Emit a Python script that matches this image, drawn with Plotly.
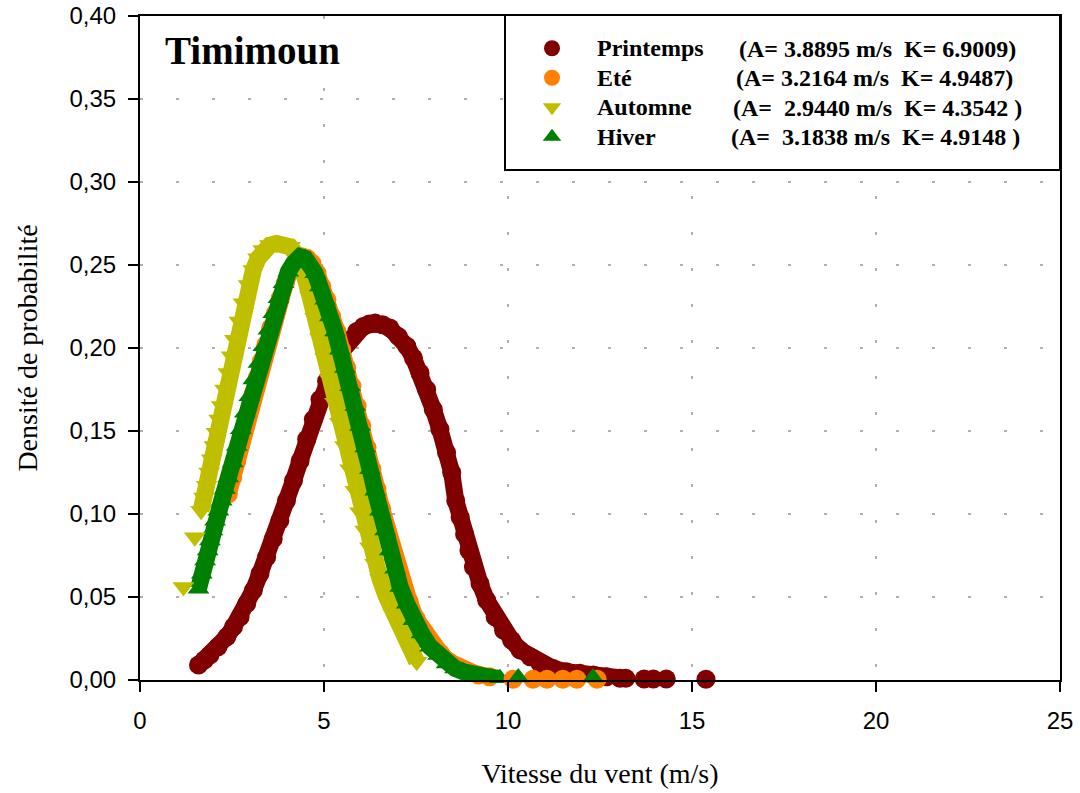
import plotly.graph_objects as go

# ---------------- data ----------------
series_names = ["Printemps", "Eté", "Automne", "Hiver"]
param_texts = [
    "(A= 3.8895 m/s  K= 6.9009)",
    "(A= 3.2164 m/s  K= 4.9487)",
    "(A=  2.9440 m/s  K= 4.3542 )",
    "(A=  3.1838 m/s  K= 4.9148 )",
]

# Printemps (dark red circles)
printemps_x = [1.59, 1.75, 1.90, 2.12, 2.36, 2.54, 2.72, 2.90, 3.08, 3.26, 3.44, 3.62, 3.80, 3.98, 4.17,
               4.35, 4.53, 4.71, 4.89, 5.07, 5.25, 5.48, 5.71, 5.89, 6.07, 6.23, 6.39, 6.59, 6.79,
               7.02, 7.25, 7.43, 7.61, 7.79, 7.97, 8.15, 8.33, 8.47, 8.58, 8.70, 8.82, 8.94, 9.06,
               9.24, 9.42, 9.65, 9.88, 10.10, 10.33, 10.60, 10.87, 11.23, 11.59, 11.95, 12.32, 12.68, 13.04, 13.20]
printemps_y = [0.009, 0.012, 0.015, 0.020, 0.026, 0.032, 0.038, 0.046, 0.054, 0.064, 0.074, 0.085, 0.096, 0.108, 0.120,
               0.132, 0.145, 0.157, 0.169, 0.180, 0.189, 0.198, 0.205, 0.210, 0.213, 0.2145, 0.215, 0.214, 0.212,
               0.207, 0.201, 0.194, 0.185, 0.175, 0.163, 0.151, 0.137, 0.125, 0.108, 0.098, 0.088, 0.078, 0.068,
               0.058, 0.048, 0.038, 0.030, 0.024, 0.018, 0.014, 0.010, 0.007, 0.005, 0.004, 0.003, 0.002, 0.001, 0.001]
printemps_tail_x = [13.70, 13.95, 14.30, 15.38]
printemps_tail_y = [0.0006, 0.0006, 0.0006, 0.0005]

# Eté (orange circles)
ete_x = [2.40, 2.52, 2.63, 2.74, 2.85, 2.96, 3.07, 3.18, 3.30, 3.42, 3.55, 3.68, 3.81, 3.95, 4.08, 4.22, 4.40,
         4.54, 4.67, 4.81, 4.94, 5.08, 5.21, 5.35, 5.48, 5.62, 5.76, 5.90, 6.03, 6.17, 6.30, 6.44, 6.57,
         6.71, 6.85, 6.99, 7.13, 7.32, 7.50, 7.72, 7.95, 8.17, 8.40, 8.65, 8.90, 9.20, 9.50]
ete_y = [0.112, 0.122, 0.132, 0.142, 0.152, 0.162, 0.172, 0.182, 0.192, 0.202, 0.212, 0.221, 0.230, 0.239, 0.246, 0.251, 0.255,
         0.254, 0.251, 0.245, 0.237, 0.229, 0.219, 0.210, 0.199, 0.188, 0.177, 0.165, 0.153, 0.140, 0.127, 0.115, 0.103,
         0.091, 0.079, 0.068, 0.057, 0.047, 0.037, 0.029, 0.021, 0.016, 0.011, 0.008, 0.005, 0.003, 0.002]
ete_tail_x = [10.14, 10.68, 11.06, 11.49, 11.87, 12.42]
ete_tail_y = [0.0005, 0.0005, 0.0005, 0.0005, 0.0005, 0.0005]

# Automne (olive-yellow down triangles)
automne_x = [1.66, 1.74, 1.81, 1.88, 1.95, 2.02, 2.08, 2.15, 2.22, 2.31, 2.40, 2.49, 2.58, 2.70, 2.81, 2.95, 3.08,
             3.21, 3.35, 3.53, 3.71, 3.90, 4.08, 4.22, 4.35, 4.49, 4.62, 4.76, 4.89, 5.03, 5.16, 5.30, 5.43,
             5.57, 5.71, 5.85, 5.98, 6.12, 6.25, 6.39, 6.52, 6.70, 6.88, 7.07, 7.25, 7.38, 7.52]
automne_y = [0.102, 0.110, 0.117, 0.125, 0.133, 0.141, 0.149, 0.157, 0.165, 0.175, 0.185, 0.195, 0.205, 0.216, 0.227, 0.238, 0.247,
             0.254, 0.259, 0.262, 0.263, 0.263, 0.261, 0.257, 0.251, 0.242, 0.231, 0.218, 0.206, 0.194, 0.181, 0.167, 0.155,
             0.141, 0.127, 0.114, 0.101, 0.090, 0.080, 0.070, 0.061, 0.050, 0.040, 0.032, 0.024, 0.018, 0.011]
automne_tail_x = [1.18, 1.49, 8.23, 8.58, 8.97, 9.24, 9.46, 12.00]
automne_tail_y = [0.056, 0.086, -0.0015, -0.0015, -0.0015, -0.0015, -0.0015, -0.0015]

# Hiver (green up triangles)
hiver_x = [1.59, 1.68, 1.77, 1.84, 1.90, 1.97, 2.04, 2.13, 2.22, 2.31, 2.40, 2.52, 2.63, 2.74, 2.85, 2.97, 3.08,
           3.22, 3.35, 3.49, 3.62, 3.76, 3.90, 4.03, 4.17, 4.35, 4.49, 4.62, 4.76, 4.89, 5.03, 5.16, 5.30,
           5.43, 5.57, 5.71, 5.85, 5.98, 6.12, 6.25, 6.39, 6.52, 6.66, 6.79, 6.93, 7.07, 7.25, 7.43, 7.65,
           7.88, 8.10, 8.33, 8.56, 8.79, 9.05, 9.30, 9.55, 9.78]
hiver_y = [0.055, 0.064, 0.072, 0.078, 0.084, 0.090, 0.096, 0.102, 0.108, 0.115, 0.122, 0.131, 0.141, 0.151, 0.161, 0.171, 0.181,
           0.191, 0.201, 0.211, 0.221, 0.230, 0.239, 0.246, 0.251, 0.255, 0.254, 0.251, 0.245, 0.237, 0.229, 0.219, 0.210,
           0.199, 0.188, 0.177, 0.165, 0.153, 0.140, 0.127, 0.114, 0.102, 0.090, 0.078, 0.067, 0.056, 0.046, 0.036, 0.028,
           0.020, 0.015, 0.010, 0.007, 0.005, 0.003, 0.002, 0.0015, 0.001]
hiver_tail_x = [10.28, 12.31]
hiver_tail_y = [0.0015, 0.0015]

colors = ["#800000", "#FF8000", "#BFBF00", "#008000"]
symbols = ["circle", "circle", "triangle-down", "triangle-up"]

main_x = [printemps_x, ete_x, automne_x, hiver_x]
main_y = [printemps_y, ete_y, automne_y, hiver_y]
tail_x = [printemps_tail_x, ete_tail_x, automne_tail_x, hiver_tail_x]
tail_y = [printemps_tail_y, ete_tail_y, automne_tail_y, hiver_tail_y]

x_tickvals = [0, 5, 10, 15, 20, 25]
y_tickvals = [0.00, 0.05, 0.10, 0.15, 0.20, 0.25, 0.30, 0.35, 0.40]

# ---------------- figure ----------------
fig = go.Figure()

MS = 19
LW = 17

for i in range(4):
    fig.add_trace(go.Scatter(
        x=main_x[i], y=main_y[i], mode="lines+markers",
        line=dict(color=colors[i], width=LW),
        marker=dict(color=colors[i], symbol=symbols[i], size=MS, line=dict(width=0)),
        showlegend=False, cliponaxis=False, legendgroup=series_names[i], name=series_names[i],
    ))

for i in range(4):
    fig.add_trace(go.Scatter(
        x=tail_x[i], y=tail_y[i], mode="markers",
        marker=dict(color=colors[i], symbol=symbols[i], size=MS, line=dict(width=0)),
        name="<b><span style='font-size:24px'>" + series_names[i] + "</span></b>",
        showlegend=True, cliponaxis=False, legendgroup=series_names[i],
    ))

serif = "Liberation Serif, Times New Roman, serif"
sans = "Liberation Sans, Arial, sans-serif"

# pixel -> paper conversion for a 920x664 plot area starting at (140,16)
def px_to_paper_x(px):
    return (px - 140) / 920.0

def px_to_paper_y(py):
    return (680 - py) / 664.0

fig.add_shape(type="rect", xref="paper", yref="paper",
              x0=px_to_paper_x(505), x1=px_to_paper_x(1060),
              y0=px_to_paper_y(170), y1=px_to_paper_y(15),
              line=dict(color="black", width=2), fillcolor="white", layer="above")

row_centers = [48.5, 78.0, 107.5, 137.0]
param_left = [737, 734, 731, 729]
for i in range(4):
    fig.add_annotation(
        x=px_to_paper_x(param_left[i]), y=px_to_paper_y(row_centers[i]),
        xref="paper", yref="paper", xanchor="left", yanchor="middle",
        text="<b>" + param_texts[i].replace(" ", "\u00a0") + "</b>", showarrow=False,
        font=dict(family=serif, size=24, color="black"),
    )

fig.add_annotation(
    x=px_to_paper_x(163), y=px_to_paper_y(51), xref="paper", yref="paper",
    xanchor="left", yanchor="middle", text="<b>Timimoun</b>", showarrow=False,
    font=dict(family=serif, size=39, color="black"),
)

fig.update_layout(
    width=1080, height=793,
    margin=dict(l=140, r=20, t=16, b=113, autoexpand=False),
    paper_bgcolor="white", plot_bgcolor="white",
    separators=", ",
    font=dict(family=sans, color="black"),
    legend=dict(
        x=px_to_paper_x(507), y=px_to_paper_y(28.5), xanchor="left", yanchor="top",
        bgcolor="rgba(0,0,0,0)", borderwidth=0,
        font=dict(family=serif, size=20.4, color="black"),
        itemwidth=80, traceorder="normal",
    ),
    xaxis=dict(
        range=[0, 25], tickvals=x_tickvals, ticks="outside", ticklen=10, tickwidth=2,
        tickcolor="black", showline=True, linecolor="black", linewidth=2, mirror=True,
        showgrid=True, gridcolor="#b0b0b0", gridwidth=2, griddash="3px,33px",
        zeroline=False, tickfont=dict(family=sans, size=24, color="black"),
        ticklabelstandoff=8, automargin=False,
        title=dict(text="Vitesse du vent (m/s)", font=dict(family=serif, size=28, color="black"), standoff=31),
    ),
    yaxis=dict(
        range=[0, 0.40], tickvals=y_tickvals, tickformat=".2f", ticks="outside", ticklen=10, tickwidth=2,
        tickcolor="black", showline=True, linecolor="black", linewidth=2, mirror=True,
        showgrid=True, gridcolor="#b0b0b0", gridwidth=2, griddash="3px,33px",
        zeroline=False, tickfont=dict(family=sans, size=24, color="black"),
        ticklabelstandoff=7, automargin=False,
        title=dict(text="Densité de probabilité", font=dict(family=serif, size=28, color="black"), standoff=24),
    ),
)

fig.write_html("out.html")
